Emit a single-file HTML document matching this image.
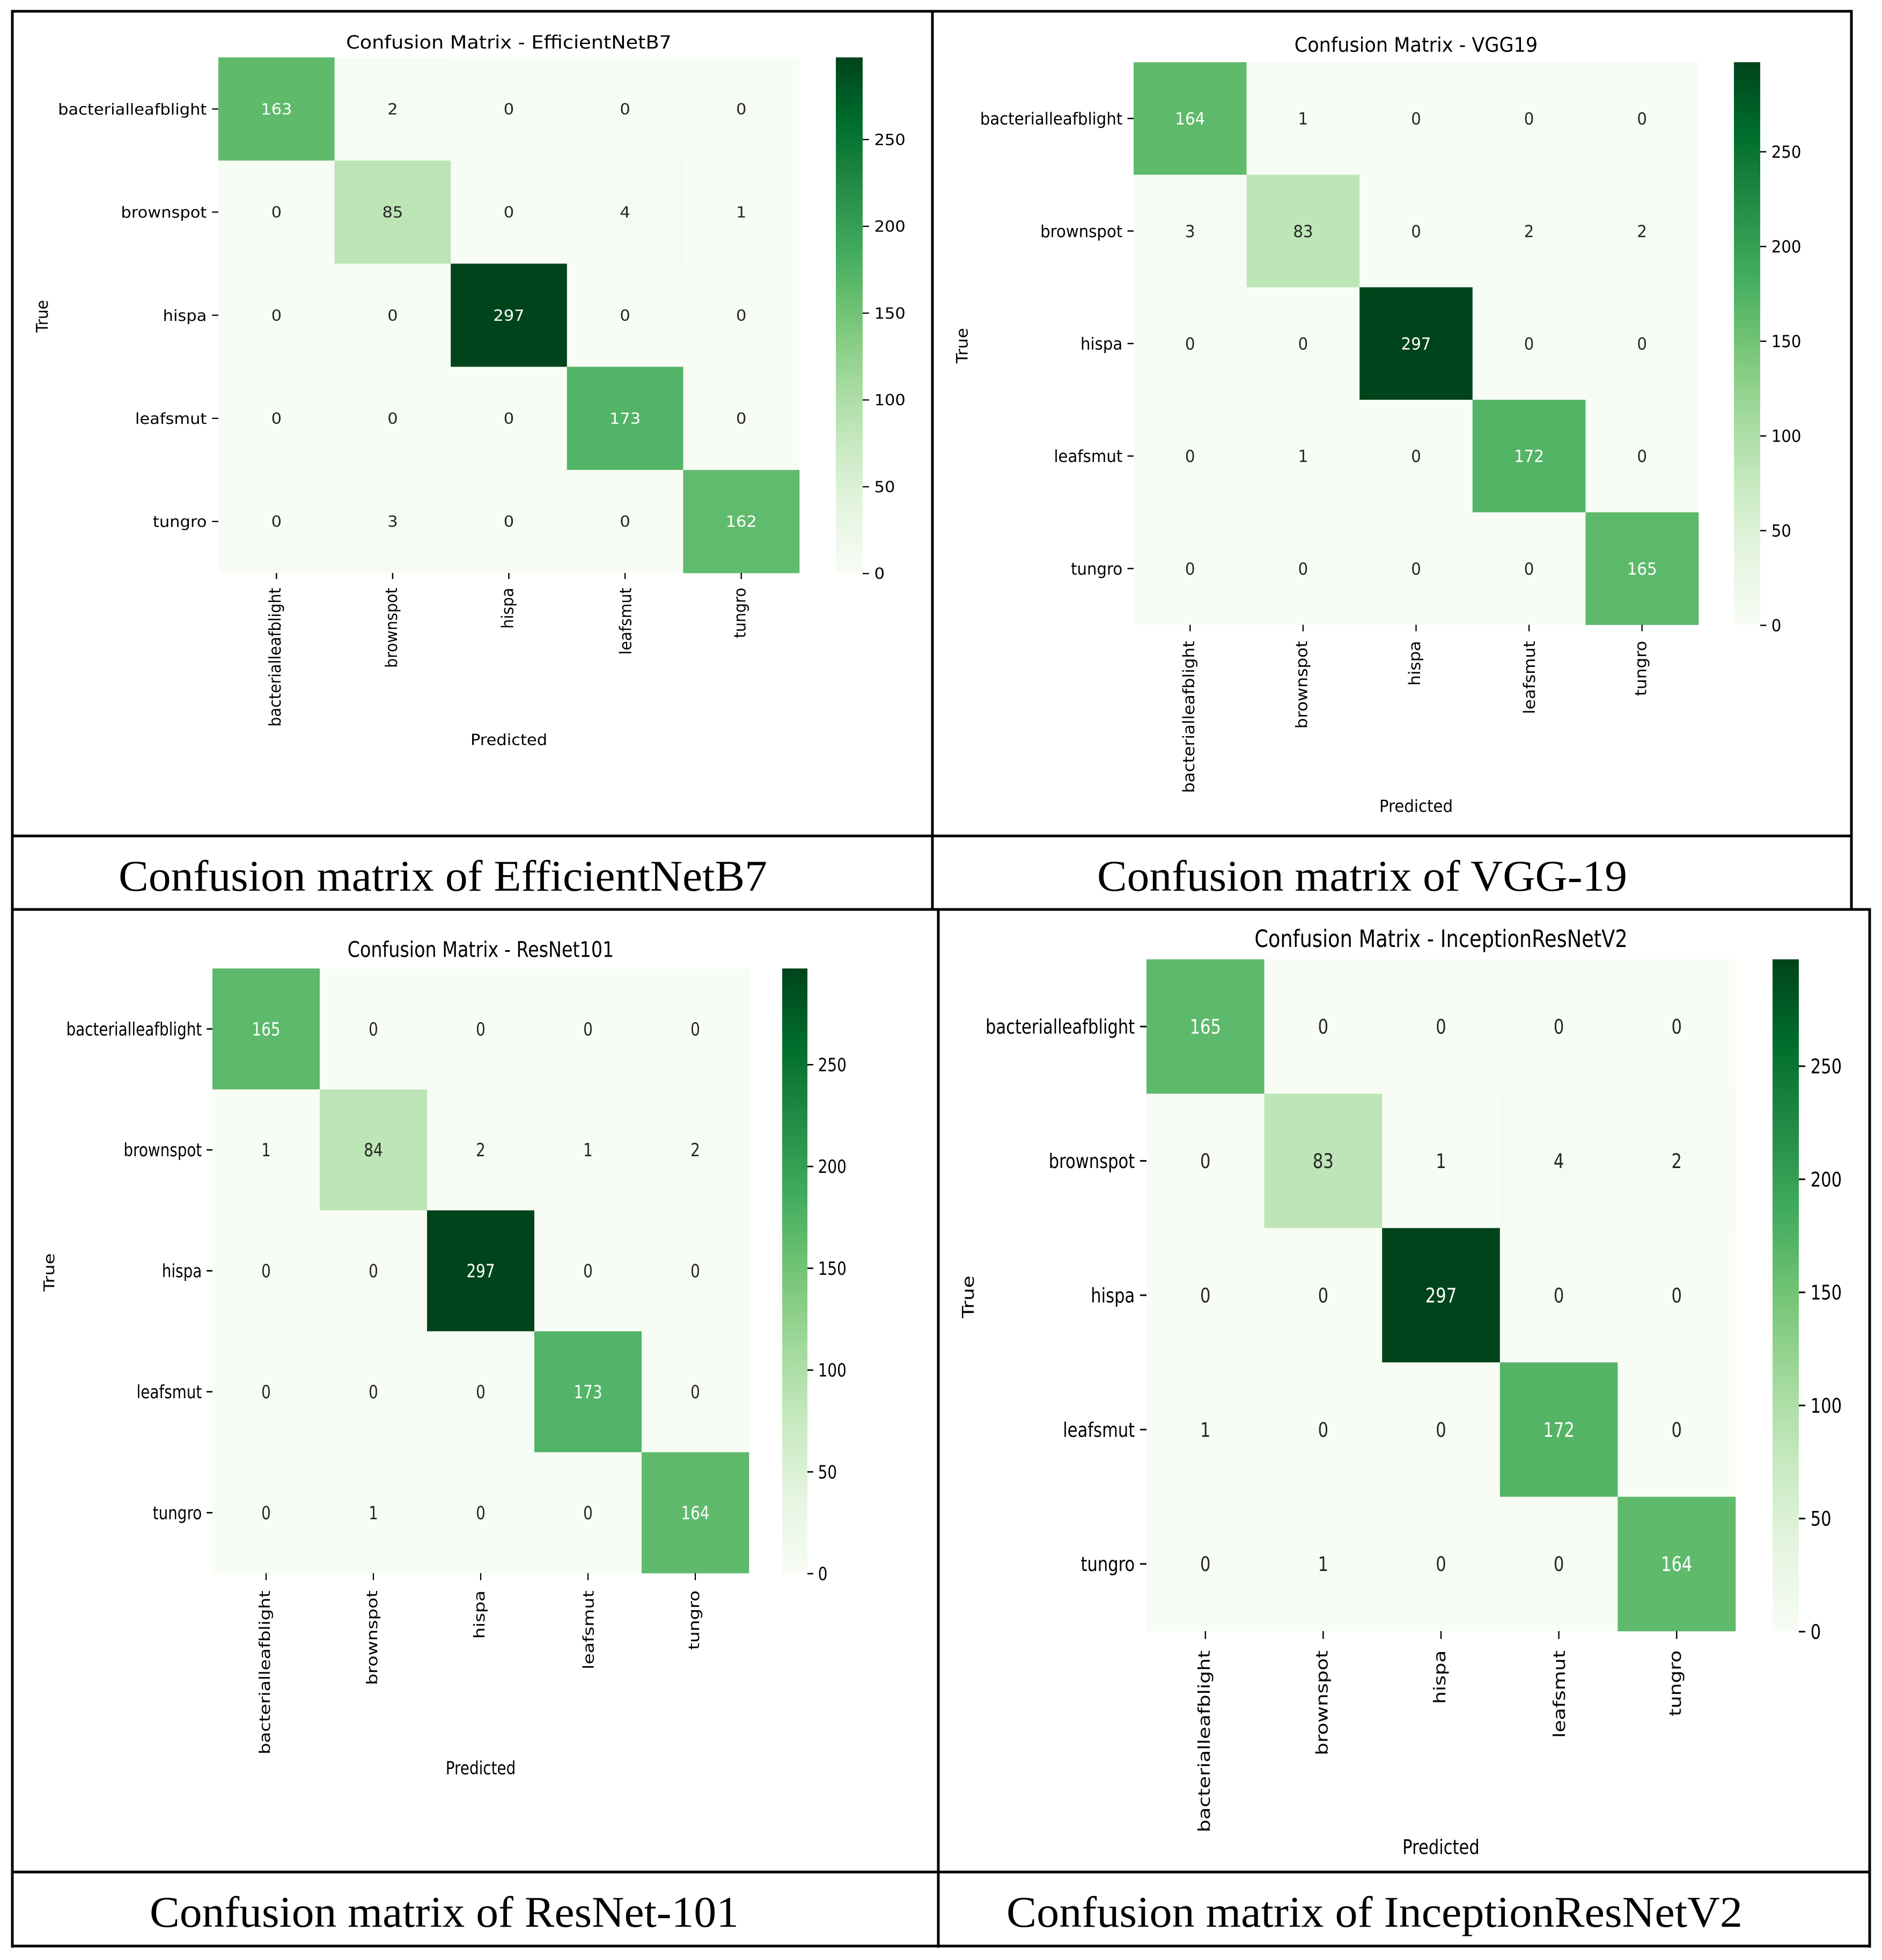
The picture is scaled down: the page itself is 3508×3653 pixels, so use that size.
<!DOCTYPE html>
<html lang="en">
<head>
<meta charset="utf-8">
<title>Confusion matrices</title>
<style>
html,body{margin:0;padding:0;background:#fff;width:3508px;height:3653px;overflow:hidden}
svg{display:block}
text{font-family:"DejaVu Sans","Liberation Sans",sans-serif}
.cap{font-family:"Liberation Serif",serif;font-size:82px;fill:#000}
</style>
</head>
<body>
<svg id="figure" xmlns="http://www.w3.org/2000/svg" width="3508" height="3653" viewBox="0 0 3508 3653">
  <rect width="3508" height="3653" fill="#fff"/>
  <defs>
    <linearGradient id="greens-gradient" x1="0" y1="1" x2="0" y2="0"></linearGradient>
  </defs>
  <g id="charts"></g>
  <g stroke="#000" stroke-width="5">
    <line x1="21" y1="21" x2="3453" y2="21"/>
    <line x1="23" y1="19" x2="23" y2="3630"/>
    <line x1="1738" y1="19" x2="1738" y2="1696"/>
    <line x1="3451" y1="19" x2="3451" y2="1696"/>
    <line x1="21" y1="1558" x2="3453" y2="1558"/>
    <line x1="21" y1="1695" x2="3487" y2="1695"/>
    <line x1="1749" y1="1693" x2="1749" y2="3630"/>
    <line x1="3485" y1="1693" x2="3485" y2="3630"/>
    <line x1="21" y1="3489" x2="3487" y2="3489"/>
    <line x1="21" y1="3627" x2="3487" y2="3627"/>
  </g>
  <text class="cap" x="221" y="1660" textLength="1209" lengthAdjust="spacingAndGlyphs">Confusion matrix of EfficientNetB7</text>
  <text class="cap" x="2045" y="1660" textLength="988" lengthAdjust="spacingAndGlyphs">Confusion matrix of VGG-19</text>
  <text class="cap" x="279" y="3591" textLength="1098" lengthAdjust="spacingAndGlyphs">Confusion matrix of ResNet-101</text>
  <text class="cap" x="1876" y="3591" textLength="1372" lengthAdjust="spacingAndGlyphs">Confusion matrix of InceptionResNetV2</text>
</svg>
<script>
// ---- chart data ----
const categories = ["bacterialleafblight", "brownspot", "hispa", "leafsmut", "tungro"];
const colorbarTicks = [0, 50, 100, 150, 200, 250];
const colorMax = 297;
const efficientNetValues = [
  [163, 2, 0, 0, 0],
  [0, 85, 0, 4, 1],
  [0, 0, 297, 0, 0],
  [0, 0, 0, 173, 0],
  [0, 3, 0, 0, 162]
];
const vggValues = [
  [164, 1, 0, 0, 0],
  [3, 83, 0, 2, 2],
  [0, 0, 297, 0, 0],
  [0, 1, 0, 172, 0],
  [0, 0, 0, 0, 165]
];
const resNetValues = [
  [165, 0, 0, 0, 0],
  [1, 84, 2, 1, 2],
  [0, 0, 297, 0, 0],
  [0, 0, 0, 173, 0],
  [0, 1, 0, 0, 164]
];
const inceptionValues = [
  [165, 0, 0, 0, 0],
  [0, 83, 1, 4, 2],
  [0, 0, 297, 0, 0],
  [1, 0, 0, 172, 0],
  [0, 1, 0, 0, 164]
];
const greensStops = [
  [247,252,245],[229,245,224],[199,233,192],[161,217,155],[116,196,118],
  [65,171,93],[35,139,69],[0,109,44],[0,68,27]
];

// ---- per-panel layout (pixels in the figure) ----
const panels = [
  {key:"efficientnetb7", title:"Confusion Matrix - EfficientNetB7", values:efficientNetValues,
   left:407, right:1490, top:107, bottom:1068, sx:3.05, sy:2.85,
   cbLeft:1558, cbRight:1608, titleY:78, trueX:78, predY:1378, trueShift:2},
  {key:"vgg19", title:"Confusion Matrix - VGG19", values:vggValues,
   left:2113, right:3166, top:116, bottom:1164.5, sx:2.92, sy:3.12,
   cbLeft:3232, cbRight:3281, titleY:83, trueX:1793, predY:1502, trueShift:4},
  {key:"resnet101", title:"Confusion Matrix - ResNet101", values:resNetValues,
   left:396, right:1396, top:1805, bottom:2932, sx:2.78, sy:3.36,
   cbLeft:1458, cbRight:1505, titleY:1769, trueX:91, predY:3295, trueShift:3},
  {key:"inceptionresnetv2", title:"Confusion Matrix - InceptionResNetV2", values:inceptionValues,
   left:2137, right:3235, top:1788, bottom:3040, sx:3.06, sy:3.73,
   cbLeft:3304, cbRight:3353, titleY:1749, trueX:1804, predY:3442, trueShift:3}
];

const NS = "http://www.w3.org/2000/svg";
function node(parent, tag, attrs, content) {
  const el = document.createElementNS(NS, tag);
  for (const k in attrs) el.setAttribute(k, attrs[k]);
  if (content !== undefined) el.textContent = content;
  parent.appendChild(el);
  return el;
}
function colorRGB(v) {
  const t = Math.max(0, Math.min(1, v / colorMax)) * (greensStops.length - 1);
  const i = Math.min(Math.floor(t), greensStops.length - 2);
  const f = t - i;
  return greensStops[i].map((c, n) => c + (greensStops[i + 1][n] - c) * f);
}
function cssColor(rgb) {
  return "rgb(" + rgb.map(c => Math.round(c)).join(",") + ")";
}
function annotColor(rgb) {
  const lin = rgb.map(c => { c /= 255; return c <= 0.03928 ? c / 12.92 : Math.pow((c + 0.055) / 1.055, 2.4); });
  return 0.2126 * lin[0] + 0.7152 * lin[1] + 0.0722 * lin[2] < 0.408 ? "#ffffff" : "#262626";
}

const gradient = document.getElementById("greens-gradient");
greensStops.forEach((c, i) => {
  node(gradient, "stop", {offset: i / (greensStops.length - 1), "stop-color": cssColor(c)});
});

const TICK = 3.9, LABEL_PAD = 7.1, XLABEL_PAD = 9.6, FS = 10;

function drawPanel(p) {
  const root = document.getElementById("charts");
  const g = node(root, "g", {transform: "translate(" + p.left + "," + p.top + ") scale(" + p.sx + "," + p.sy + ")"});
  
  
  const W = (p.right - p.left) / p.sx, H = (p.bottom - p.top) / p.sy;
  const n = categories.length;
  const xScale = i => i / n * W;
  const yScale = i => i / n * H;
  const cbLeft = (p.cbLeft - p.left) / p.sx, cbRight = (p.cbRight - p.left) / p.sx;
  const cbY = v => H - v / colorMax * H;
  const cbTickY = v => cbY(v) + 1 / p.sy;

  p.values.forEach((row, r) => {
    row.forEach((v, c) => {
      const rgb = colorRGB(v);
      const rect = node(g, "rect", {x: xScale(c), y: yScale(r), width: xScale(c + 1) - xScale(c) + 0.1, height: yScale(r + 1) - yScale(r) + 0.1, fill: cssColor(rgb)});
      
      
    });
  });
  p.values.forEach((row, r) => {
    row.forEach((v, c) => {
      const label = node(g, "text", {x: xScale(c + 0.5), y: yScale(r + 0.5) + 3.6, "text-anchor": "middle", "font-size": FS, fill: annotColor(colorRGB(v))}, String(v));
      
      
    });
  });

  categories.forEach((cat, i) => {
    const yc = yScale(i + 0.5), xc = xScale(i + 0.5);
    const rotatedShift = /[gjpqy]/.test(cat) ? 2.6 : 3.8;
    const yt = node(g, "line", {x1: -TICK, x2: 0, y1: yc, y2: yc, stroke: "#000", "stroke-width": 0.8});
    
    
    const yl = node(g, "text", {x: -LABEL_PAD, y: yc + 3.6, "text-anchor": "end", "font-size": FS, fill: "#000"}, cat);
    
    
    const xt = node(g, "line", {x1: xc, x2: xc, y1: H, y2: H + TICK, stroke: "#000", "stroke-width": 0.8});
    
    
    const xl = node(g, "text", {transform: "translate(" + xc + "," + (H + XLABEL_PAD) + ") rotate(-90)", dy: rotatedShift, "text-anchor": "end", "font-size": FS, fill: "#000"}, cat);
    
    
  });

  const bar = node(g, "rect", {x: cbLeft, y: cbY(colorMax), width: cbRight - cbLeft, height: cbY(0) - cbY(colorMax), fill: "url(#greens-gradient)"});
  
  
  colorbarTicks.forEach(v => {
    const t = node(g, "line", {x1: cbRight, x2: cbRight + TICK, y1: cbTickY(v), y2: cbTickY(v), stroke: "#000", "stroke-width": 0.8});
    
    
    const l = node(g, "text", {x: cbRight + LABEL_PAD, y: cbTickY(v) + 3.6, "font-size": FS, fill: "#000"}, String(v));
    
    
  });

  const title = node(g, "text", {x: W / 2, y: (p.titleY - p.top) / p.sy + 4.3, "text-anchor": "middle", "font-size": 12, fill: "#000"}, p.title);
  
  
  const xTitle = node(g, "text", {x: W / 2, y: (p.predY - p.top) / p.sy + 3.6, "text-anchor": "middle", "font-size": FS, fill: "#000"}, "Predicted");
  
  
  const yTitle = node(g, "text", {transform: "translate(" + (p.trueX - p.left) / p.sx + "," + (H / 2 + p.trueShift / p.sy) + ") rotate(-90)", dy: 3.6, "text-anchor": "middle", "font-size": FS, fill: "#000"}, "True");
  
  
}
panels.forEach(drawPanel);
</script>
</body>
</html>
